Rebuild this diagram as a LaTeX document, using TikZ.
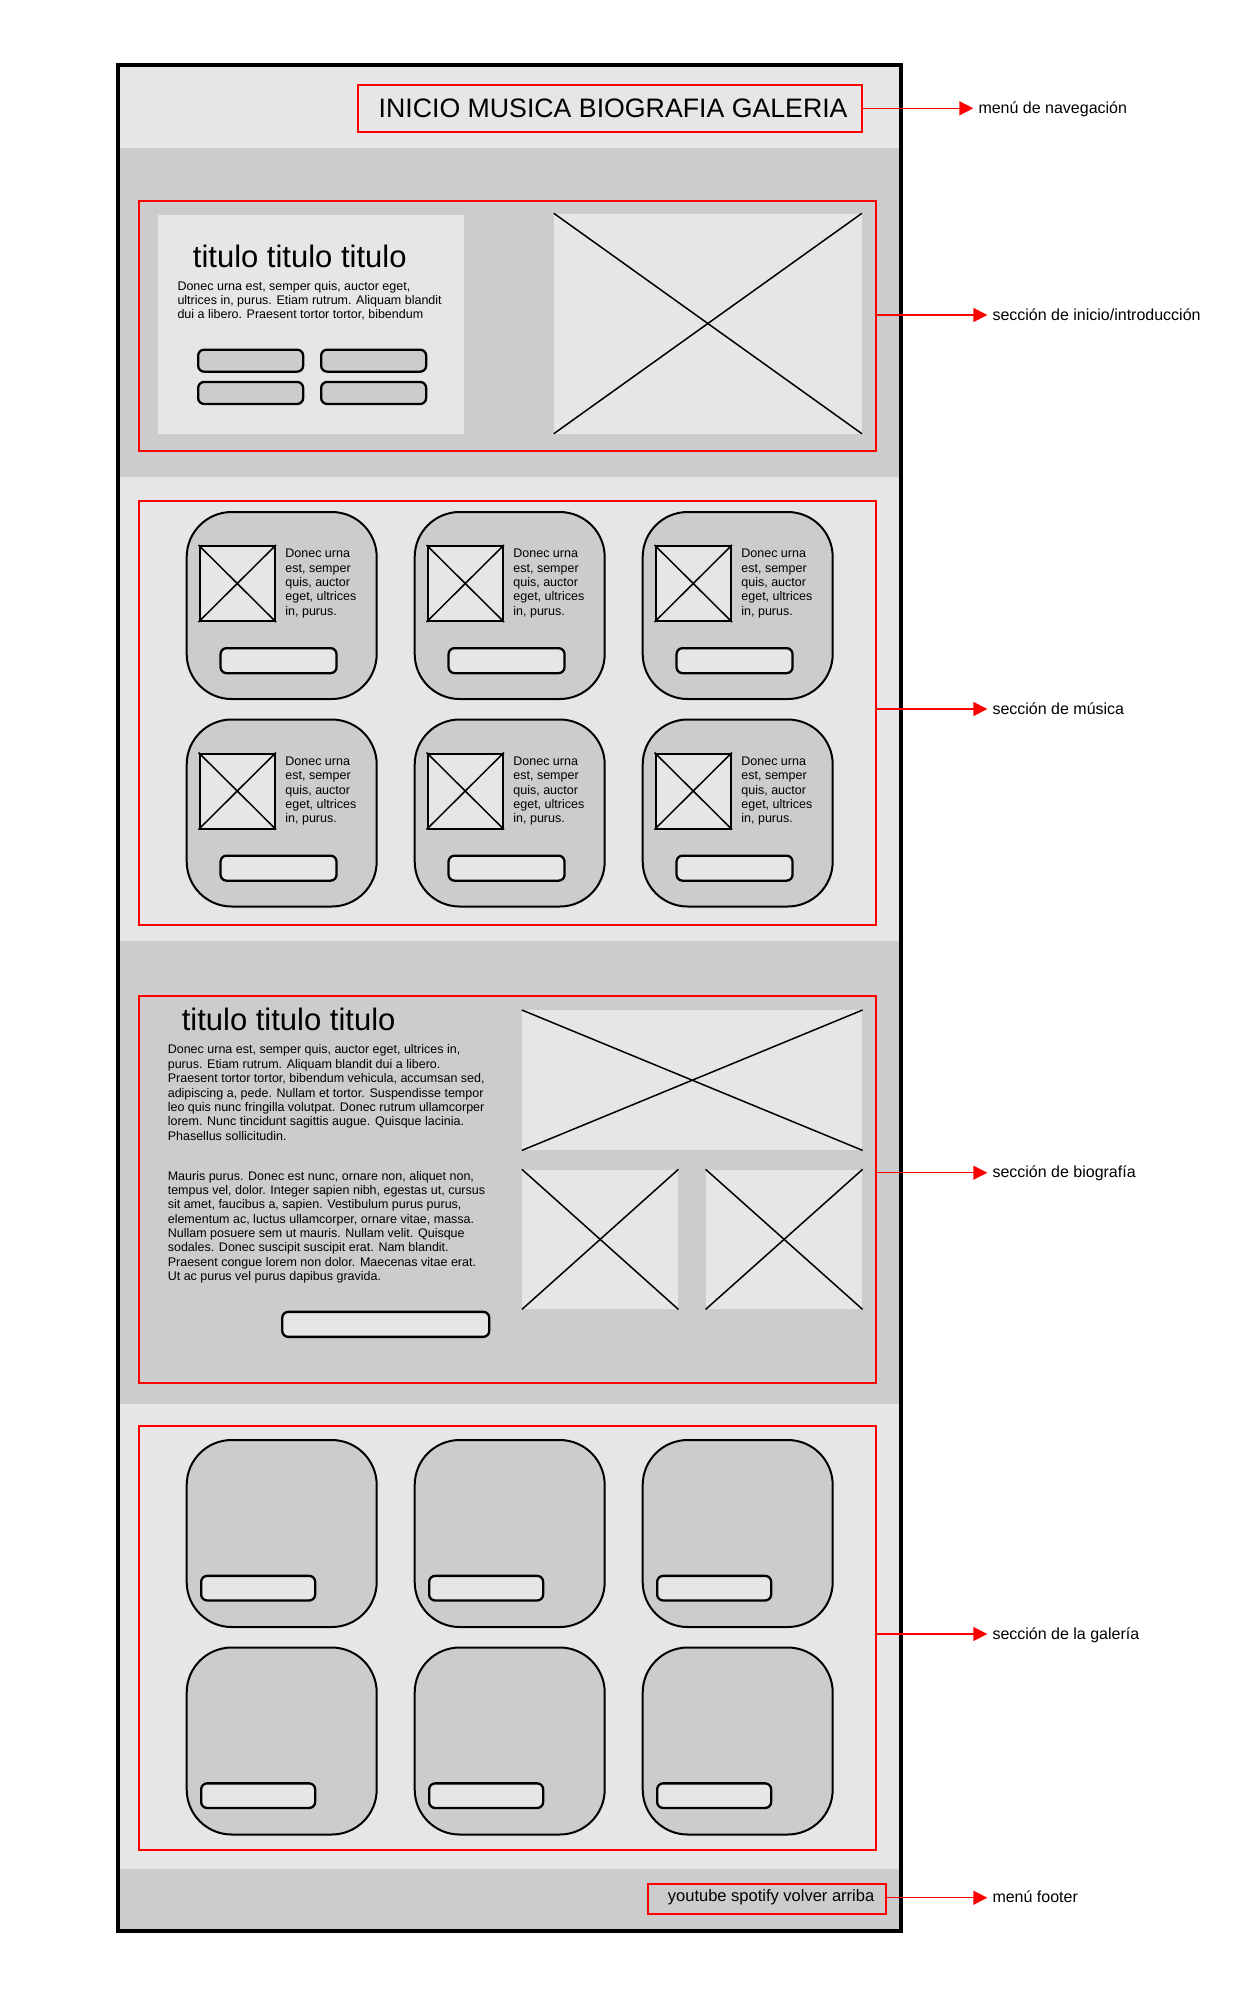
\documentclass[tikz,border=0pt]{standalone}
\usepackage{fontspec}
\setmainfont{Liberation Sans}
\usetikzlibrary{arrows.meta}
\definecolor{lg}{HTML}{E6E6E6}
\definecolor{dg}{HTML}{CCCCCC}
\definecolor{rd}{HTML}{FF0000}
\begin{document}
\begin{tikzpicture}[x=1pt,y=-1pt,
  redbox/.style={draw=rd, line width=2pt, inner sep=0pt, anchor=north west},
  card/.style={draw=black, fill=dg, line width=2pt, rounded corners=45pt, inner sep=0pt,
    minimum width=190pt, minimum height=187pt, anchor=north west},
  btn/.style={draw=black, line width=2.3pt, rounded corners=6pt, inner sep=0pt, anchor=north west},
  mimg/.style={draw=black, fill=lg, line width=2pt, inner sep=0pt, minimum width=75.5pt,
    minimum height=75pt, anchor=north west},
  pimg/.style={fill=lg, inner sep=0pt, anchor=north west},
  xline/.style={draw=black, line width=1.5pt},
  small/.style={inner sep=0pt, anchor=base west, font=\fontsize{12.5}{14}\selectfont},
  title/.style={inner sep=0pt, anchor=base west, font=\fontsize{31}{36}\selectfont},
  lbl/.style={inner sep=0pt, anchor=base west, font=\fontsize{16}{19}\selectfont},
  arr/.style={draw=rd, line width=1.5pt, -{Triangle[length=14pt,width=14pt]}}]

\fill[white] (0,0) rectangle (1240,2000);
\useasboundingbox (0,0) rectangle (1240,2000);

% bands
\fill[lg] (118,65) rectangle (900.5,147.7);
\fill[dg] (118,147.7) rectangle (900.5,477);
\fill[lg] (118,477) rectangle (900.5,941);
\fill[dg] (118,941) rectangle (900.5,1403.5);
\fill[lg] (118,1403.5) rectangle (900.5,1868.5);
\fill[dg] (118,1868.5) rectangle (900.5,1931);
\draw[line width=4pt] (118,65) rectangle (900.5,1931);

% nav
\node[redbox, minimum width=504pt, minimum height=46.4pt] (navbox) at (356.7,84.3) {};
\node[inner sep=0pt, anchor=base west, font=\fontsize{26.7}{32}\selectfont] (navtxt) at (378.5,117.7) {INICIO MUSICA BIOGRAFIA GALERIA};

% inicio
\node[redbox, minimum width=737pt, minimum height=250pt] (inibox) at (138,200) {};
\node[pimg, minimum width=306.3pt, minimum height=219pt] (ipanel) at (157.7,214.3) {};
\node[title] (ititle) at (192.7,267.7) {titulo titulo titulo};
\foreach \t [count=\i] in {{Donec urna est, semper quis, auctor eget,},{ultrices in, purus. Etiam rutrum. Aliquam blandit},{dui a libero. Praesent tortor tortor, bibendum}}
  \node[small] (ip-\i) at ({177.3},{290.3+14.2*(\i-1)}) {\t};
\node[btn, fill=dg, minimum width=105pt, minimum height=22pt] (ib1) at (197,348.5) {};
\node[btn, fill=dg, minimum width=105pt, minimum height=22pt] (ib2) at (320,348.5) {};
\node[btn, fill=dg, minimum width=105pt, minimum height=22pt] (ib3) at (197,380.8) {};
\node[btn, fill=dg, minimum width=105pt, minimum height=22pt] (ib4) at (320,380.8) {};
\node[pimg, minimum width=307.7pt, minimum height=220pt] (iimg) at (553.8,213.3) {};
\draw[xline] (iimg.north west) -- (iimg.south east);
\draw[xline] (iimg.north east) -- (iimg.south west);

% musica
\node[redbox, minimum width=737pt, minimum height=424pt] (musbox) at (138,500) {};
\foreach \r in {0,1}{
  \foreach \c in {0,1,2}{
    \pgfmathsetmacro{\cx}{185.7+228*\c}
    \pgfmathsetmacro{\cy}{511+207.5*\r}
    \node[card] (mc-\r-\c) at (\cx,\cy) {};
    \node[mimg] (mi-\r-\c) at ({\cx+12.8},{\cy+34}) {};
    \draw[xline] (mi-\r-\c.north west) -- (mi-\r-\c.south east);
    \draw[xline] (mi-\r-\c.north east) -- (mi-\r-\c.south west);
    \foreach \t [count=\i] in {Donec urna,{est, semper},{quis, auctor},{eget, ultrices},{in, purus.}}
      \node[small] (mt-\r-\c-\i) at ({\cx+99.5},{\cy+46.8+14.35*(\i-1)}) {\t};
    \node[btn, fill=lg, minimum width=116pt, minimum height=25pt] (mb-\r-\c) at ({\cx+33.7},{\cy+136}) {};
  }
}

% biografia
\node[redbox, minimum width=737pt, minimum height=387.3pt] (biobox) at (138,995) {};
\node[title] (btitle) at (181.6,1030.7) {titulo titulo titulo};
\foreach \t [count=\i] in {{Donec urna est, semper quis, auctor eget, ultrices in,},{purus. Etiam rutrum. Aliquam blandit dui a libero.},{Praesent tortor tortor, bibendum vehicula, accumsan sed,},{adipiscing a, pede. Nullam et tortor. Suspendisse tempor},{leo quis nunc fringilla volutpat. Donec rutrum ullamcorper},{lorem. Nunc tincidunt sagittis augue. Quisque lacinia.},{Phasellus sollicitudin.}}
  \node[small] (bp-\i) at ({167.6},{1053.9+14.4*(\i-1)}) {\t};
\foreach \t [count=\i] in {{Mauris purus. Donec est nunc, ornare non, aliquet non,},{tempus vel, dolor. Integer sapien nibh, egestas ut, cursus},{sit amet, faucibus a, sapien. Vestibulum purus purus,},{elementum ac, luctus ullamcorper, ornare vitae, massa.},{Nullam posuere sem ut mauris. Nullam velit. Quisque},{sodales. Donec suscipit suscipit erat. Nam blandit.},{Praesent congue lorem non dolor. Maecenas vitae erat.},{Ut ac purus vel purus dapibus gravida.}}
  \node[small] (bq-\i) at ({167.6},{1180.3+14.29*(\i-1)}) {\t};
\node[btn, fill=lg, minimum width=207pt, minimum height=25pt] (bbtn) at (281.1,1310.7) {};
\node[pimg, minimum width=340.3pt, minimum height=140pt] (bimg1) at (521.9,1010) {};
\node[pimg, minimum width=156.1pt, minimum height=139.7pt] (bimg2) at (521.9,1169.3) {};
\node[pimg, minimum width=156.6pt, minimum height=139.7pt] (bimg3) at (705.6,1169.3) {};
\foreach \n in {bimg1,bimg2,bimg3}{
  \draw[xline] (\n.north west) -- (\n.south east);
  \draw[xline] (\n.north east) -- (\n.south west);
}

% galeria
\node[redbox, minimum width=737pt, minimum height=424pt] (galbox) at (138,1425) {};
\foreach \r in {0,1}{
  \foreach \c in {0,1,2}{
    \pgfmathsetmacro{\cx}{185.7+228*\c}
    \pgfmathsetmacro{\cy}{1439+207.5*\r}
    \node[card] (gc-\r-\c) at (\cx,\cy) {};
    \node[btn, fill=lg, minimum width=114pt, minimum height=24.6pt] (gb-\r-\c) at ({\cx+14.3},{\cy+135.7}) {};
  }
}

% footer
\node[redbox, minimum width=238.3pt, minimum height=30pt] (footbox) at (646.7,1883.3) {};
\node[inner sep=0pt, anchor=base west, font=\fontsize{16.5}{20}\selectfont] (foottxt) at (667.7,1901.7) {youtube spotify volver arriba};

% annotations
\coordinate (tnav) at (973.3,108.3);
\coordinate (tini) at (987.3,315);
\coordinate (tmus) at (987.3,709);
\coordinate (tbio) at (987.3,1172.7);
\coordinate (tgal) at (987.3,1634);
\coordinate (tfoot) at (987.3,1897.7);
\node[lbl] (lnav) at (978.3,113.3) {menú de navegación};
\node[lbl] (lini) at (992.3,320) {sección de inicio/introducción};
\node[lbl] (lmus) at (992.3,714) {sección de música};
\node[lbl] (lbio) at (992.3,1177.7) {sección de biografía};
\node[lbl] (lgal) at (992.3,1639) {sección de la galería};
\node[lbl] (lfoot) at (992.3,1902.7) {menú footer};
\draw[arr] (navbox.east |- tnav) -- (tnav);
\draw[arr] (inibox.east |- tini) -- (tini);
\draw[arr] (musbox.east |- tmus) -- (tmus);
\draw[arr] (biobox.east |- tbio) -- (tbio);
\draw[arr] (galbox.east |- tgal) -- (tgal);
\draw[arr] (footbox.east |- tfoot) -- (tfoot);
\end{tikzpicture}
\end{document}
